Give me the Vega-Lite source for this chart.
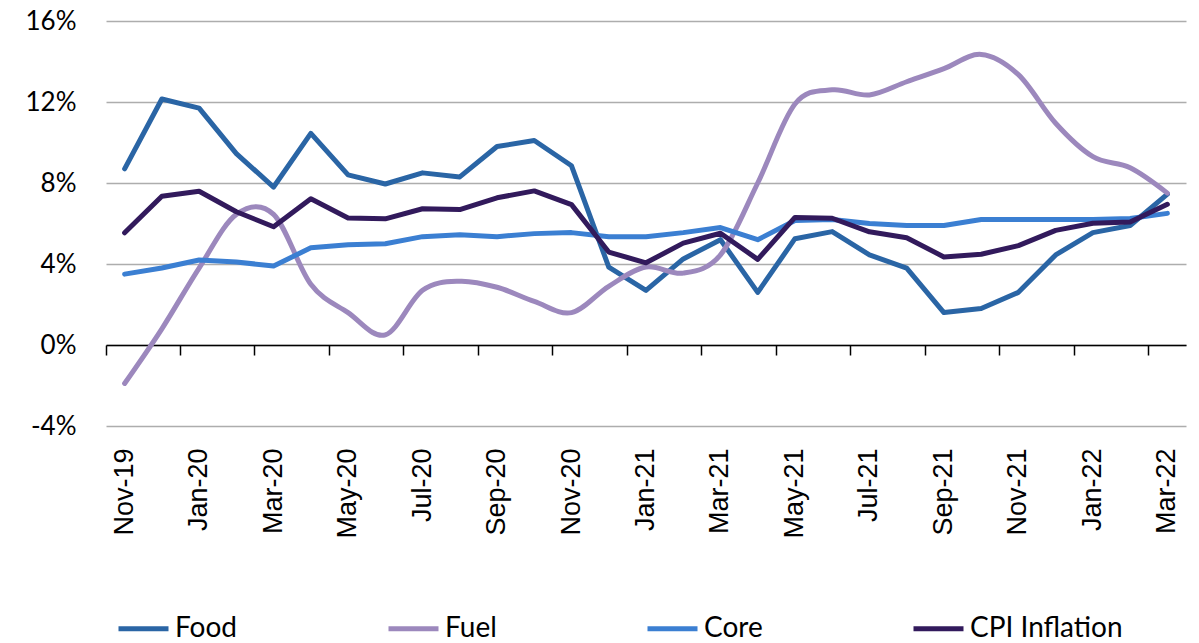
{
  "$schema": "https://vega.github.io/schema/vega-lite/v6.json",
  "width": 1080,
  "height": 405,
  "autosize": {"type": "none"},
  "padding": {"left": 106, "top": 21, "right": 13, "bottom": 217},
  "background": "white",
  "config": {"view": {"stroke": null}},
  "data": {"values": [
    {"m":"Nov-19","s":"Food","v":8.7},{"m":"Dec-19","s":"Food","v":12.15},{"m":"Jan-20","s":"Food","v":11.7},{"m":"Feb-20","s":"Food","v":9.45},{"m":"Mar-20","s":"Food","v":7.8},{"m":"Apr-20","s":"Food","v":10.45},{"m":"May-20","s":"Food","v":8.4},{"m":"Jun-20","s":"Food","v":7.95},{"m":"Jul-20","s":"Food","v":8.5},{"m":"Aug-20","s":"Food","v":8.3},{"m":"Sep-20","s":"Food","v":9.8},{"m":"Oct-20","s":"Food","v":10.1},{"m":"Nov-20","s":"Food","v":8.85},{"m":"Dec-20","s":"Food","v":3.85},{"m":"Jan-21","s":"Food","v":2.7},{"m":"Feb-21","s":"Food","v":4.25},{"m":"Mar-21","s":"Food","v":5.2},{"m":"Apr-21","s":"Food","v":2.6},{"m":"May-21","s":"Food","v":5.25},{"m":"Jun-21","s":"Food","v":5.6},{"m":"Jul-21","s":"Food","v":4.45},{"m":"Aug-21","s":"Food","v":3.8},{"m":"Sep-21","s":"Food","v":1.6},{"m":"Oct-21","s":"Food","v":1.8},{"m":"Nov-21","s":"Food","v":2.6},{"m":"Dec-21","s":"Food","v":4.45},{"m":"Jan-22","s":"Food","v":5.55},{"m":"Feb-22","s":"Food","v":5.9},{"m":"Mar-22","s":"Food","v":7.45},
    {"m":"Nov-19","s":"Fuel","v":-1.9},{"m":"Dec-19","s":"Fuel","v":0.8},{"m":"Jan-20","s":"Fuel","v":3.8},{"m":"Feb-20","s":"Fuel","v":6.45},{"m":"Mar-20","s":"Fuel","v":6.45},{"m":"Apr-20","s":"Fuel","v":3.0},{"m":"May-20","s":"Fuel","v":1.6},{"m":"Jun-20","s":"Fuel","v":0.5},{"m":"Jul-20","s":"Fuel","v":2.7},{"m":"Aug-20","s":"Fuel","v":3.15},{"m":"Sep-20","s":"Fuel","v":2.85},{"m":"Oct-20","s":"Fuel","v":2.15},{"m":"Nov-20","s":"Fuel","v":1.6},{"m":"Dec-20","s":"Fuel","v":2.9},{"m":"Jan-21","s":"Fuel","v":3.85},{"m":"Feb-21","s":"Fuel","v":3.55},{"m":"Mar-21","s":"Fuel","v":4.45},{"m":"Apr-21","s":"Fuel","v":8.0},{"m":"May-21","s":"Fuel","v":11.9},{"m":"Jun-21","s":"Fuel","v":12.6},{"m":"Jul-21","s":"Fuel","v":12.35},{"m":"Aug-21","s":"Fuel","v":13.0},{"m":"Sep-21","s":"Fuel","v":13.65},{"m":"Oct-21","s":"Fuel","v":14.35},{"m":"Nov-21","s":"Fuel","v":13.35},{"m":"Dec-21","s":"Fuel","v":10.95},{"m":"Jan-22","s":"Fuel","v":9.3},{"m":"Feb-22","s":"Fuel","v":8.75},{"m":"Mar-22","s":"Fuel","v":7.5},
    {"m":"Nov-19","s":"Core","v":3.5},{"m":"Dec-19","s":"Core","v":3.8},{"m":"Jan-20","s":"Core","v":4.2},{"m":"Feb-20","s":"Core","v":4.1},{"m":"Mar-20","s":"Core","v":3.9},{"m":"Apr-20","s":"Core","v":4.8},{"m":"May-20","s":"Core","v":4.95},{"m":"Jun-20","s":"Core","v":5.0},{"m":"Jul-20","s":"Core","v":5.35},{"m":"Aug-20","s":"Core","v":5.45},{"m":"Sep-20","s":"Core","v":5.35},{"m":"Oct-20","s":"Core","v":5.5},{"m":"Nov-20","s":"Core","v":5.55},{"m":"Dec-20","s":"Core","v":5.35},{"m":"Jan-21","s":"Core","v":5.35},{"m":"Feb-21","s":"Core","v":5.55},{"m":"Mar-21","s":"Core","v":5.8},{"m":"Apr-21","s":"Core","v":5.2},{"m":"May-21","s":"Core","v":6.15},{"m":"Jun-21","s":"Core","v":6.2},{"m":"Jul-21","s":"Core","v":6.0},{"m":"Aug-21","s":"Core","v":5.9},{"m":"Sep-21","s":"Core","v":5.9},{"m":"Oct-21","s":"Core","v":6.2},{"m":"Nov-21","s":"Core","v":6.2},{"m":"Dec-21","s":"Core","v":6.2},{"m":"Jan-22","s":"Core","v":6.2},{"m":"Feb-22","s":"Core","v":6.25},{"m":"Mar-22","s":"Core","v":6.5},
    {"m":"Nov-19","s":"CPI Inflation","v":5.54},{"m":"Dec-19","s":"CPI Inflation","v":7.35},{"m":"Jan-20","s":"CPI Inflation","v":7.59},{"m":"Feb-20","s":"CPI Inflation","v":6.58},{"m":"Mar-20","s":"CPI Inflation","v":5.84},{"m":"Apr-20","s":"CPI Inflation","v":7.22},{"m":"May-20","s":"CPI Inflation","v":6.27},{"m":"Jun-20","s":"CPI Inflation","v":6.23},{"m":"Jul-20","s":"CPI Inflation","v":6.73},{"m":"Aug-20","s":"CPI Inflation","v":6.69},{"m":"Sep-20","s":"CPI Inflation","v":7.27},{"m":"Oct-20","s":"CPI Inflation","v":7.61},{"m":"Nov-20","s":"CPI Inflation","v":6.93},{"m":"Dec-20","s":"CPI Inflation","v":4.59},{"m":"Jan-21","s":"CPI Inflation","v":4.06},{"m":"Feb-21","s":"CPI Inflation","v":5.03},{"m":"Mar-21","s":"CPI Inflation","v":5.52},{"m":"Apr-21","s":"CPI Inflation","v":4.23},{"m":"May-21","s":"CPI Inflation","v":6.3},{"m":"Jun-21","s":"CPI Inflation","v":6.26},{"m":"Jul-21","s":"CPI Inflation","v":5.59},{"m":"Aug-21","s":"CPI Inflation","v":5.3},{"m":"Sep-21","s":"CPI Inflation","v":4.35},{"m":"Oct-21","s":"CPI Inflation","v":4.48},{"m":"Nov-21","s":"CPI Inflation","v":4.91},{"m":"Dec-21","s":"CPI Inflation","v":5.66},{"m":"Jan-22","s":"CPI Inflation","v":6.01},{"m":"Feb-22","s":"CPI Inflation","v":6.07},{"m":"Mar-22","s":"CPI Inflation","v":6.95}
  ]},
  "encoding": {
    "x": {
      "field": "m", "type": "ordinal", "bandPosition": 0.5,
      "scale": {"type": "band", "paddingInner": 0, "paddingOuter": 0,
        "domain": ["Nov-19","Dec-19","Jan-20","Feb-20","Mar-20","Apr-20","May-20","Jun-20","Jul-20","Aug-20","Sep-20","Oct-20","Nov-20","Dec-20","Jan-21","Feb-21","Mar-21","Apr-21","May-21","Jun-21","Jul-21","Aug-21","Sep-21","Oct-21","Nov-21","Dec-21","Jan-22","Feb-22","Mar-22"]},
      "axis": {
        "title": null, "orient": "bottom", "offset": -81,
        "values": ["Nov-19","Jan-20","Mar-20","May-20","Jul-20","Sep-20","Nov-20","Jan-21","Mar-21","May-21","Jul-21","Sep-21","Nov-21","Jan-22","Mar-22"],
        "bandPosition": 0, "tickExtra": false,
        "domainColor": "black", "domainWidth": 1.5,
        "tickColor": "black", "tickWidth": 1.5, "tickSize": 10,
        "labelAngle": -90, "labelFont": "Liberation Sans", "labelFontSize": 27, "labelColor": "black",
        "labelPadding": 93, "labelOverlap": false, "grid": false
      }
    },
    "y": {
      "field": "v", "type": "quantitative",
      "scale": {"domain": [-4, 16], "nice": false, "zero": false},
      "axis": {
        "title": null, "values": [-4, 0, 4, 8, 12, 16],
        "labelExpr": "datum.value + '%'",
        "domain": false, "ticks": false, "tickSize": 0, "labelPadding": 30,
        "labelFont": "Lato", "labelFontSize": 26, "labelColor": "black",
        "grid": true, "gridColor": "#ADADAD", "gridWidth": 1.5
      }
    },
    "color": {
      "field": "s", "type": "nominal",
      "scale": {"domain": ["Food", "Fuel", "Core", "CPI Inflation"], "range": ["#2A65A5", "#9C88BD", "#3B7FD2", "#321A5C"]},
      "legend": {
        "title": null, "orient": "none", "direction": "horizontal",
        "legendX": 10, "legendY": 580,
        "symbolType": "stroke", "symbolSize": 2500, "symbolStrokeWidth": 5,
        "labelFont": "Lato", "labelFontSize": 28, "labelColor": "black",
        "labelOffset": 4, "columnPadding": 140, "labelLimit": 0
      }
    }
  },
  "layer": [
    {"transform": [{"filter": "datum.s === 'Food'"}], "mark": {"type": "line", "strokeWidth": 5, "strokeJoin": "round", "strokeCap": "round"}},
    {"transform": [{"filter": "datum.s === 'Fuel'"}], "mark": {"type": "line", "strokeWidth": 5, "strokeJoin": "round", "strokeCap": "round", "interpolate": "cardinal"}},
    {"transform": [{"filter": "datum.s === 'Core'"}], "mark": {"type": "line", "strokeWidth": 5, "strokeJoin": "round", "strokeCap": "round"}},
    {"transform": [{"filter": "datum.s === 'CPI Inflation'"}], "mark": {"type": "line", "strokeWidth": 5, "strokeJoin": "round", "strokeCap": "round"}}
  ]
}
